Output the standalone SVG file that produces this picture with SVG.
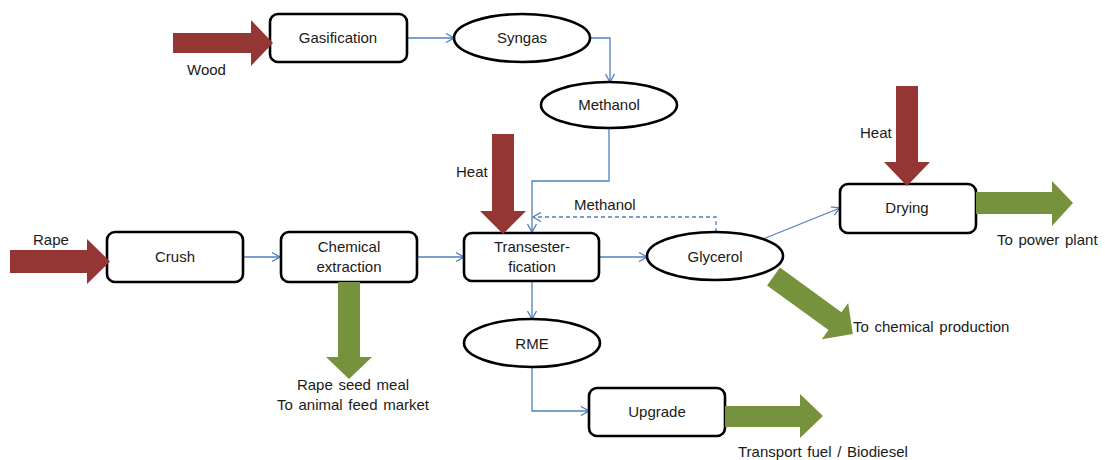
<svg xmlns="http://www.w3.org/2000/svg" width="1105" height="460" viewBox="0 0 1105 460">
  <defs>
    <marker id="open" viewBox="0 0 10 10" refX="9" refY="5" markerWidth="10" markerHeight="10" markerUnits="userSpaceOnUse" orient="auto">
      <path d="M1,0.5 L9,5 L1,9.5" fill="none" stroke="#4F81BD" stroke-width="1.3"/>
    </marker>
    <style>
      .box { fill: #fff; stroke: #000; stroke-width: 2.6; }
      .lbl { font-family: "Liberation Sans", Arial, sans-serif; font-size: 15px; word-spacing: 1.5px; fill: #1a1a1a; }
      .mid { text-anchor: middle; }
      .link { fill: none; stroke: #4F81BD; stroke-width: 1.3; marker-end: url(#open); }
      .dash { stroke-dasharray: 4 3; }
      .heat { fill: #943634; }
      .out { fill: #76923C; }
    </style>
  </defs>
  <rect width="1105" height="460" fill="#fff"/>

  <!-- connectors -->
  <g id="connectors">
    <path class="link" d="M407,38 H454"/>
    <path class="link" d="M590,38 H610 V82"/>
    <path class="link" d="M609,128 V181 H532 V232"/>
    <path class="link dash" d="M716,232 V217 H533"/>
    <path class="link" d="M243,257 H280"/>
    <path class="link" d="M417,257 H464"/>
    <path class="link" d="M599,257 H647"/>
    <path class="link" d="M763,239 L840,208"/>
    <path class="link" d="M532,281 V319"/>
    <path class="link" d="M532,367 V411 H589"/>
    <text class="lbl" x="574" y="210">Methanol</text>
  </g>

  <!-- process steps -->
  <g id="gasification">
    <rect class="box" x="270" y="14" width="137" height="48" rx="8"/>
    <text class="lbl mid" x="338" y="43">Gasification</text>
  </g>
  <g id="syngas">
    <ellipse class="box" cx="522" cy="38" rx="68" ry="24"/>
    <text class="lbl mid" x="522" y="43">Syngas</text>
  </g>
  <g id="methanol">
    <ellipse class="box" cx="609" cy="105" rx="68" ry="23"/>
    <text class="lbl mid" x="609" y="110">Methanol</text>
  </g>
  <g id="crush">
    <rect class="box" x="107" y="232" width="136" height="50" rx="8"/>
    <text class="lbl mid" x="175" y="262">Crush</text>
  </g>
  <g id="chemical-extraction">
    <rect class="box" x="281" y="232" width="136" height="50" rx="8"/>
    <text class="lbl mid" x="349" y="252">Chemical</text>
    <text class="lbl mid" x="349" y="272">extraction</text>
  </g>
  <g id="transesterification">
    <rect class="box" x="464" y="233" width="135" height="48" rx="8"/>
    <text class="lbl mid" x="532" y="252">Transester-</text>
    <text class="lbl mid" x="532" y="272">fication</text>
  </g>
  <g id="glycerol">
    <ellipse class="box" cx="715" cy="256" rx="68" ry="24"/>
    <text class="lbl mid" x="715" y="262">Glycerol</text>
  </g>
  <g id="drying">
    <rect class="box" x="840" y="184" width="136" height="49" rx="8"/>
    <text class="lbl mid" x="907" y="213">Drying</text>
  </g>
  <g id="rme">
    <ellipse class="box" cx="532" cy="343" rx="68" ry="24"/>
    <text class="lbl mid" x="532" y="349">RME</text>
  </g>
  <g id="upgrade">
    <rect class="box" x="589" y="388" width="136" height="48" rx="8"/>
    <text class="lbl mid" x="657" y="417">Upgrade</text>
  </g>

  <!-- inputs -->
  <g id="wood">
    <polygon class="heat" points="173,33 251,33 251,20 273,43 251,66 251,53 173,53"/>
    <text class="lbl" x="187" y="75">Wood</text>
  </g>
  <g id="rape">
    <polygon class="heat" points="10,250 87,250 87,239 110,261.5 87,284 87,273 10,273"/>
    <text class="lbl" x="33" y="245">Rape</text>
  </g>
  <g id="heat-transesterification">
    <polygon class="heat" points="492,134 514,134 514,211 526,211 503,234 480,211 492,211"/>
    <text class="lbl" x="456" y="177">Heat</text>
  </g>
  <g id="heat-drying">
    <polygon class="heat" points="896,86 918,86 918,162 930,162 907,186 884,162 896,162"/>
    <text class="lbl" x="860" y="138">Heat</text>
  </g>

  <!-- outputs -->
  <g id="rape-seed-meal">
    <polygon class="out" points="338,282 360,282 360,357 372,357 349,379 326,357 338,357"/>
    <text class="lbl mid" x="353" y="390">Rape seed meal</text>
    <text class="lbl mid" x="353" y="410">To animal feed market</text>
  </g>
  <g id="chemical-production">
    <polygon class="out" transform="translate(773.5,276.5) rotate(36)" points="0,-11 76,-11 76,-22.5 98,0 76,22.5 76,11 0,11"/>
    <text class="lbl" x="853" y="332">To chemical production</text>
  </g>
  <g id="power-plant">
    <polygon class="out" points="976,192 1052,192 1052,181 1073,203 1052,226 1052,214 976,214"/>
    <text class="lbl" x="997" y="245">To power plant</text>
  </g>
  <g id="transport-fuel">
    <polygon class="out" points="725,406 800,406 800,394 823,416 800,438 800,427 725,427"/>
    <text class="lbl" x="738" y="457">Transport fuel / Biodiesel</text>
  </g>
</svg>
